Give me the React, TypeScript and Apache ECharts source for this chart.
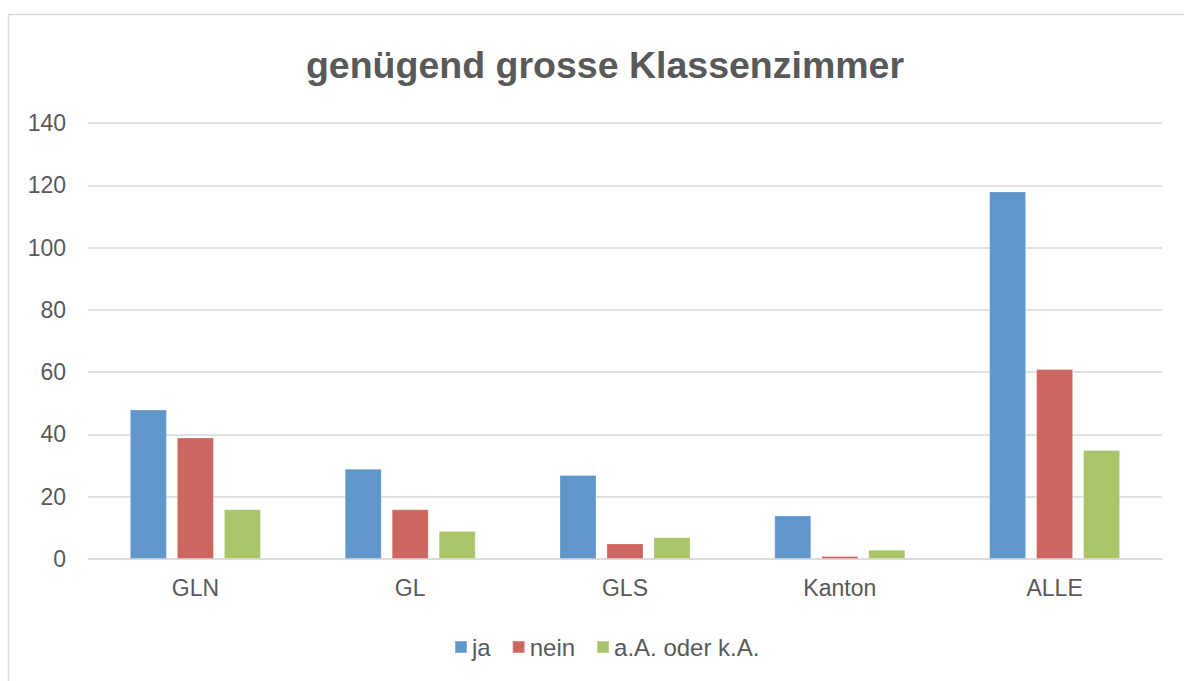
import React, { useEffect, useRef } from "react";
import * as echarts from "echarts";

const categories = ["GLN", "GL", "GLS", "Kanton", "ALLE"];
const seriesNames = ["ja", "nein", "a.A. oder k.A."];
const jaValues = [48, 29, 27, 14, 118];
const neinValues = [39, 16, 5, 1, 61];
const akaValues = [16, 9, 7, 3, 35];
const colors = ["#6196CA", "#CD665E", "#AAC46A"];
const yTicks = { min: 0, max: 140, interval: 20 };

export default function App() {
  const ref = useRef<HTMLDivElement>(null);
  useEffect(() => {
    if (!ref.current) return;
    const chart = echarts.init(ref.current, undefined, { renderer: "svg" });
    const values = [jaValues, neinValues, akaValues];
    chart.setOption({
      animation: false,
      backgroundColor: "#ffffff",
      textStyle: { fontFamily: "Liberation Sans, Arial, sans-serif" },
      title: {
        text: "genügend grosse Klassenzimmer",
        left: 600,
        textAlign: "center",
        top: 41,
        textStyle: { fontSize: 37.5, fontWeight: "bold", color: "#595959", fontFamily: "Liberation Sans, Arial, sans-serif" },
      },
      graphic: [
        {
          type: "rect",
          shape: { x: 8.5, y: 14.5, width: 1200, height: 700 },
          style: { fill: "none", stroke: "#D9D9D9", lineWidth: 1.5 },
          silent: true,
        },
      ],
      legend: {
        data: seriesNames,
        bottom: 17,
        left: 449,
        itemWidth: 12,
        itemHeight: 12,
        itemGap: 21,
        icon: "rect",
        textStyle: { fontSize: 24, color: "#595959", padding: [0, 0, 0, 0] },
      },
      grid: { left: 88, right: 22, top: 123, bottom: 122, containLabel: false },
      xAxis: {
        type: "category",
        data: categories,
        axisTick: { show: false },
        axisLine: { lineStyle: { color: "#D9D9D9", width: 1.5 } },
        axisLabel: { fontSize: 23, color: "#595959", margin: 17 },
      },
      yAxis: {
        type: "value",
        min: yTicks.min,
        max: yTicks.max,
        interval: yTicks.interval,
        axisLine: { show: false },
        axisTick: { show: false },
        axisLabel: { fontSize: 23, color: "#595959", margin: 22 },
        splitLine: { lineStyle: { color: "#D9D9D9", width: 1.5 } },
      },
      series: seriesNames.map((name, i) => ({
        name,
        type: "bar",
        data: values[i],
        barGap: "27%",
        barCategoryGap: "39%",
        itemStyle: { color: colors[i], borderColor: "rgba(255,255,255,0.25)", borderWidth: 1 },
      })),
    });
    return () => chart.dispose();
  }, []);
  return (
    <div
      ref={ref}
      style={{ position: "absolute", left: 0, top: 0, width: 1184, height: 681 }}
    />
  );
}
